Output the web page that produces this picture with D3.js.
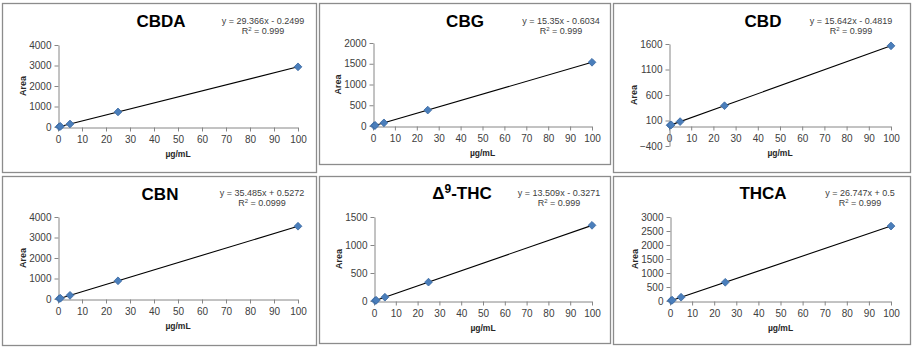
<!DOCTYPE html>
<html>
<head>
<meta charset="utf-8">
<script src="https://cdn.jsdelivr.net/npm/d3@7"></script>
<style>
  body { margin: 0; background: #fff; }
  svg { display: block; font-family: "Liberation Sans", Arial, sans-serif; }
  .axis path, .axis line { stroke: #868686; }
  .axis text { fill: #404040; font-size: 10px; }
</style>
</head>
<body>
<svg id="chart" width="914" height="350"></svg>
<script>
"use strict";

// data
const compounds = ["CBDA", "CBG", "CBD", "CBN", "THC", "THCA"];
const concentrations = [0.5, 1, 5, 25, 100];
const areaCBDA = [14, 29, 147, 734, 2935];
const areaCBG = [7, 15, 76, 383, 1535];
const areaCBD = [7, 15, 78, 390, 1564];
const areaCBN = [18, 36, 178, 888, 3549];
const areaTHC = [6, 13, 67, 337, 1351];
const areaTHCA = [14, 27, 134, 669, 2675];
const areas = [areaCBDA, areaCBG, areaCBD, areaCBN, areaTHC, areaTHCA];

const slopes = [29.366, 15.35, 15.642, 35.485, 13.509, 26.747];
const intercepts = [-0.2499, -0.6034, -0.4819, 0.5272, -0.3271, 0.5];
const equations = [
    "y = 29.366x - 0.2499",
    "y = 15.35x - 0.6034",
    "y = 15.642x - 0.4819",
    "y = 35.485x + 0.5272",
    "y = 13.509x - 0.3271",
    "y = 26.747x + 0.5"
];
const r2Values = ["0.999", "0.999", "0.999", "0.0999", "0.999", "0.999"];

const xTicks = [0, 10, 20, 30, 40, 50, 60, 70, 80, 90, 100];
const yTicks = [
    [0, 1000, 2000, 3000, 4000],
    [0, 500, 1000, 1500, 2000],
    [-400, 100, 600, 1100, 1600],
    [0, 1000, 2000, 3000, 4000],
    [0, 500, 1000, 1500],
    [0, 500, 1000, 1500, 2000, 2500, 3000]
];

// panel frames: box, plot area, title/equation anchors
const frames = [
    { box: [2, 3, 316, 172], plot: [58, 298, 45, 127], title: [161, 27], eq: [263, 24] },
    { box: [319, 3, 610, 164], plot: [373, 592, 43, 126], title: [465, 27], eq: [561, 24] },
    { box: [613, 3, 910, 172], plot: [669, 891, 44, 146], title: [763, 27], eq: [851, 24] },
    { box: [2, 176, 316, 345], plot: [58, 298, 217, 299], title: [160, 200], eq: [262, 196] },
    { box: [319, 176, 610, 343], plot: [374, 592, 217, 301], title: [462, 199], eq: [559, 196] },
    { box: [613, 176, 910, 344], plot: [670, 891, 217, 301], title: [763, 199], eq: [860, 196] }
];

const svg = d3.select("#chart");

compounds.forEach((name, i) => {
    const f = frames[i];
    const [left, right, top, bottom] = f.plot;
    const g = svg.append("g");

    g.append("rect")
        .attr("x", f.box[0] + 0.5)
        .attr("y", f.box[1] + 0.5)
        .attr("width", f.box[2] - f.box[0])
        .attr("height", f.box[3] - f.box[1])
        .attr("fill", "#fff")
        .attr("stroke", "#8c8c8c")
        .attr("stroke-width", 1.3);

    const yt = yTicks[i];
    const xScale = d3.scaleLinear().domain([0, 100]).range([left, right]);
    const yScale = d3.scaleLinear()
        .domain([yt[0], yt[yt.length - 1]])
        .range([bottom, top]);

    const y0 = Math.round(yScale(0)) + 0.5;

    g.append("g")
        .attr("class", "axis")
        .attr("transform", `translate(0, ${y0})`)
        .call(d3.axisBottom(xScale).tickValues(xTicks).tickFormat(d3.format("d"))
            .tickSize(4).tickSizeOuter(0).tickPadding(4))
        .call(a => a.select(".domain").attr("d", `M${left},0.5H${right}`));

    g.append("g")
        .attr("class", "axis")
        .attr("transform", `translate(${Math.round(left) + 0.5}, 0)`)
        .call(d3.axisLeft(yScale).tickValues(yt).tickFormat(d3.format("d"))
            .tickSize(4).tickSizeOuter(0).tickPadding(3));

    // title
    const title = g.append("text")
        .attr("x", f.title[0])
        .attr("y", f.title[1])
        .attr("text-anchor", "middle")
        .attr("font-size", 17)
        .attr("font-weight", "bold")
        .attr("fill", "#000");
    if (name === "THC") {
        title.append("tspan").text("Δ");
        title.append("tspan").attr("dy", -6).attr("font-size", 12).text("9");
        title.append("tspan").attr("dy", 6).text("-THC");
    } else {
        title.text(name);
    }

    // trendline equation
    g.append("text")
        .attr("x", f.eq[0])
        .attr("y", f.eq[1])
        .attr("text-anchor", "middle")
        .attr("font-size", 9)
        .attr("fill", "#404040")
        .text(equations[i]);
    const r2 = g.append("text")
        .attr("x", f.eq[0])
        .attr("y", f.eq[1] + 10)
        .attr("text-anchor", "middle")
        .attr("font-size", 9)
        .attr("fill", "#404040");
    r2.append("tspan").text("R");
    r2.append("tspan").attr("dy", -3).attr("font-size", 6).text("2");
    r2.append("tspan").attr("dy", 3).text(" = " + r2Values[i]);

    // axis titles
    g.append("text")
        .attr("transform", `translate(${left - 32}, ${(top + bottom) / 2}) rotate(-90)`)
        .attr("text-anchor", "middle")
        .attr("font-size", 9)
        .attr("font-weight", "bold")
        .attr("fill", "#262626")
        .text("Area");

    g.append("text")
        .attr("x", (left + right) / 2)
        .attr("y", y0 + 29)
        .attr("text-anchor", "middle")
        .attr("font-size", 8.5)
        .attr("font-weight", "bold")
        .attr("fill", "#262626")
        .text("µg/mL");

    // linear trendline
    g.append("line")
        .attr("x1", xScale(0))
        .attr("y1", yScale(intercepts[i]))
        .attr("x2", xScale(100))
        .attr("y2", yScale(slopes[i] * 100 + intercepts[i]))
        .attr("stroke", "#000")
        .attr("stroke-width", 1.1);

    // diamond markers
    const pts = concentrations.map((c, k) => ({ c: c, a: areas[i][k] }));
    g.selectAll(".pt")
        .data(pts)
        .enter()
        .append("path")
        .attr("class", "pt")
        .attr("d", d3.symbol().type(d3.symbolSquare).size(30))
        .attr("transform", d => `translate(${xScale(d.c)}, ${yScale(d.a)}) rotate(45)`)
        .attr("fill", "#4a7ebb")
        .attr("stroke", "#3c6aa3")
        .attr("stroke-width", 0.8);
});
</script>
</body>
</html>
